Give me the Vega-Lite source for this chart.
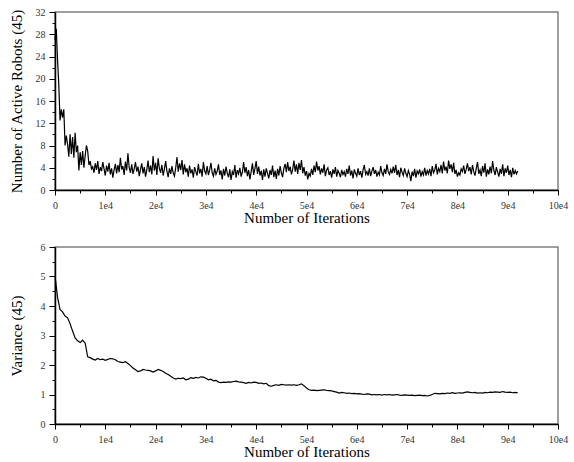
{
  "$schema": "https://vega.github.io/schema/vega-lite/v6.json",
  "padding": {"left": 8, "top": 6, "right": 10, "bottom": 5},
  "background": "white",
  "spacing": 15,
  "config": {
    "view": {"stroke": "#808080", "strokeWidth": 1.5},
    "font": "Liberation Serif",
    "axis": {
      "domainColor": "black", "domainWidth": 1.5, "tickColor": "black", "tickWidth": 1,
      "labelFont": "Liberation Serif", "labelFontSize": 10, "labelColor": "#333",
      "titleFont": "Liberation Serif", "titleFontSize": 15, "titleFontWeight": "normal", "titleColor": "black",
      "grid": false, "labelOverlap": false, "labelFlush": false
    }
  },
  "datasets": {
    "robots": [
      {"iter":0,"active":27},{"iter":250,"active":29},{"iter":500,"active":23.5},{"iter":750,"active":19},{"iter":1000,"active":12.5},{"iter":1250,"active":14.5},{"iter":1500,"active":13},{"iter":1750,"active":14.5},{"iter":2000,"active":8},{"iter":2250,"active":9.8},
      {"iter":2500,"active":8.2},{"iter":2750,"active":6},{"iter":3000,"active":10},{"iter":3250,"active":6.5},{"iter":3500,"active":9.5},{"iter":3750,"active":5.8},{"iter":4000,"active":10.3},{"iter":4250,"active":6.8},{"iter":4500,"active":8},{"iter":4750,"active":3.5},
      {"iter":5000,"active":6.8},{"iter":5250,"active":4.5},{"iter":5500,"active":7},{"iter":5750,"active":4},{"iter":6000,"active":6.2},{"iter":6250,"active":8},{"iter":6500,"active":7},{"iter":6750,"active":4.5},{"iter":7000,"active":5.2},{"iter":7250,"active":3.8},
      {"iter":7500,"active":4.2},{"iter":7750,"active":3.1},{"iter":8000,"active":4.8},{"iter":8250,"active":3.6},{"iter":8500,"active":5.2},{"iter":8750,"active":2.9},{"iter":9000,"active":4.1},{"iter":9250,"active":3.4},{"iter":9500,"active":5.0},{"iter":9750,"active":3.8},
      {"iter":10000,"active":2.6},{"iter":10250,"active":4.4},{"iter":10500,"active":3.3},{"iter":10750,"active":4.9},{"iter":11000,"active":2.8},{"iter":11250,"active":3.9},{"iter":11500,"active":2.2},{"iter":11750,"active":3.6},{"iter":12000,"active":4.7},{"iter":12250,"active":3.0},
      {"iter":12500,"active":4.5},{"iter":12750,"active":3.2},{"iter":13000,"active":5.8},{"iter":13250,"active":3.7},{"iter":13500,"active":4.3},{"iter":13750,"active":2.7},{"iter":14000,"active":5.1},{"iter":14250,"active":3.5},{"iter":14500,"active":6.6},{"iter":14750,"active":4.0},
      {"iter":15000,"active":3.1},{"iter":15250,"active":4.6},{"iter":15500,"active":2.9},{"iter":15750,"active":3.8},{"iter":16000,"active":5.0},{"iter":16250,"active":3.3},{"iter":16500,"active":4.2},{"iter":16750,"active":2.5},{"iter":17000,"active":3.7},{"iter":17250,"active":4.8},
      {"iter":17500,"active":3.0},{"iter":17750,"active":4.1},{"iter":18000,"active":2.4},{"iter":18250,"active":3.6},{"iter":18500,"active":5.3},{"iter":18750,"active":3.2},{"iter":19000,"active":4.4},{"iter":19250,"active":2.8},{"iter":19500,"active":6.1},{"iter":19750,"active":3.5},
      {"iter":20000,"active":4.9},{"iter":20250,"active":2.7},{"iter":20500,"active":5.7},{"iter":20750,"active":3.9},{"iter":21000,"active":3.1},{"iter":21250,"active":4.5},{"iter":21500,"active":2.6},{"iter":21750,"active":3.8},{"iter":22000,"active":5.2},{"iter":22250,"active":3.4},
      {"iter":22500,"active":2.3},{"iter":22750,"active":3.9},{"iter":23000,"active":2.9},{"iter":23250,"active":4.3},{"iter":23500,"active":3.1},{"iter":23750,"active":2.5},{"iter":24000,"active":4.0},{"iter":24250,"active":5.9},{"iter":24500,"active":3.3},{"iter":24750,"active":4.8},
      {"iter":25000,"active":3.6},{"iter":25250,"active":5.4},{"iter":25500,"active":2.8},{"iter":25750,"active":4.6},{"iter":26000,"active":3.2},{"iter":26250,"active":3.9},{"iter":26500,"active":2.4},{"iter":26750,"active":4.4},{"iter":27000,"active":3.0},{"iter":27250,"active":3.7},
      {"iter":27500,"active":2.2},{"iter":27750,"active":4.1},{"iter":28000,"active":3.3},{"iter":28250,"active":2.6},{"iter":28500,"active":4.7},{"iter":28750,"active":3.0},{"iter":29000,"active":3.8},{"iter":29250,"active":2.4},{"iter":29500,"active":5.0},{"iter":29750,"active":3.4},
      {"iter":30000,"active":2.9},{"iter":30250,"active":4.3},{"iter":30500,"active":2.7},{"iter":30750,"active":3.6},{"iter":31000,"active":4.9},{"iter":31250,"active":3.1},{"iter":31500,"active":2.5},{"iter":31750,"active":3.9},{"iter":32000,"active":2.8},{"iter":32250,"active":3.4},
      {"iter":32500,"active":4.6},{"iter":32750,"active":2.7},{"iter":33000,"active":3.5},{"iter":33250,"active":1.9},{"iter":33500,"active":3.8},{"iter":33750,"active":2.6},{"iter":34000,"active":4.2},{"iter":34250,"active":3.0},{"iter":34500,"active":2.3},{"iter":34750,"active":3.7},
      {"iter":35000,"active":1.8},{"iter":35250,"active":3.3},{"iter":35500,"active":2.7},{"iter":35750,"active":4.5},{"iter":36000,"active":2.2},{"iter":36250,"active":3.6},{"iter":36500,"active":2.9},{"iter":36750,"active":4.0},{"iter":37000,"active":2.4},{"iter":37250,"active":3.2},
      {"iter":37500,"active":5.0},{"iter":37750,"active":3.1},{"iter":38000,"active":4.1},{"iter":38250,"active":2.5},{"iter":38500,"active":3.6},{"iter":38750,"active":1.9},{"iter":39000,"active":3.3},{"iter":39250,"active":4.8},{"iter":39500,"active":2.7},{"iter":39750,"active":3.9},
      {"iter":40000,"active":5.2},{"iter":40250,"active":2.9},{"iter":40500,"active":4.2},{"iter":40750,"active":2.6},{"iter":41000,"active":3.5},{"iter":41250,"active":1.8},{"iter":41500,"active":3.7},{"iter":41750,"active":2.4},{"iter":42000,"active":3.9},{"iter":42250,"active":3.0},
      {"iter":42500,"active":2.1},{"iter":42750,"active":3.6},{"iter":43000,"active":2.7},{"iter":43250,"active":4.4},{"iter":43500,"active":2.3},{"iter":43750,"active":3.5},{"iter":44000,"active":2.0},{"iter":44250,"active":3.8},{"iter":44500,"active":2.6},{"iter":44750,"active":4.3},
      {"iter":45000,"active":3.1},{"iter":45250,"active":2.3},{"iter":45500,"active":3.9},{"iter":45750,"active":4.7},{"iter":46000,"active":3.2},{"iter":46250,"active":5.0},{"iter":46500,"active":3.4},{"iter":46750,"active":4.2},{"iter":47000,"active":2.8},{"iter":47250,"active":3.7},
      {"iter":47500,"active":5.3},{"iter":47750,"active":3.3},{"iter":48000,"active":4.6},{"iter":48250,"active":2.9},{"iter":48500,"active":4.9},{"iter":48750,"active":3.6},{"iter":49000,"active":5.4},{"iter":49250,"active":3.0},{"iter":49500,"active":4.1},{"iter":49750,"active":2.6},
      {"iter":50000,"active":3.4},{"iter":50250,"active":1.9},{"iter":50500,"active":3.0},{"iter":50750,"active":2.5},{"iter":51000,"active":3.8},{"iter":51250,"active":2.7},{"iter":51500,"active":4.4},{"iter":51750,"active":3.2},{"iter":52000,"active":5.1},{"iter":52250,"active":3.5},
      {"iter":52500,"active":4.3},{"iter":52750,"active":2.8},{"iter":53000,"active":3.9},{"iter":53250,"active":3.1},{"iter":53500,"active":4.6},{"iter":53750,"active":2.5},{"iter":54000,"active":3.6},{"iter":54250,"active":4.0},{"iter":54500,"active":2.7},{"iter":54750,"active":3.4},
      {"iter":55000,"active":2.2},{"iter":55250,"active":3.7},{"iter":55500,"active":2.9},{"iter":55750,"active":4.1},{"iter":56000,"active":2.4},{"iter":56250,"active":3.5},{"iter":56500,"active":3.0},{"iter":56750,"active":2.3},{"iter":57000,"active":3.6},{"iter":57250,"active":2.8},
      {"iter":57500,"active":3.3},{"iter":57750,"active":2.4},{"iter":58000,"active":3.8},{"iter":58250,"active":2.9},{"iter":58500,"active":4.4},{"iter":58750,"active":2.6},{"iter":59000,"active":3.5},{"iter":59250,"active":2.1},{"iter":59500,"active":3.7},{"iter":59750,"active":3.0},
      {"iter":60000,"active":2.5},{"iter":60250,"active":3.9},{"iter":60500,"active":2.7},{"iter":60750,"active":3.4},{"iter":61000,"active":2.2},{"iter":61250,"active":3.6},{"iter":61500,"active":4.5},{"iter":61750,"active":2.8},{"iter":62000,"active":3.3},{"iter":62250,"active":2.6},
      {"iter":62500,"active":3.9},{"iter":62750,"active":2.5},{"iter":63000,"active":3.4},{"iter":63250,"active":4.1},{"iter":63500,"active":2.9},{"iter":63750,"active":3.6},{"iter":64000,"active":2.4},{"iter":64250,"active":3.2},{"iter":64500,"active":2.7},{"iter":64750,"active":4.3},
      {"iter":65000,"active":3.1},{"iter":65250,"active":2.6},{"iter":65500,"active":3.8},{"iter":65750,"active":2.9},{"iter":66000,"active":4.6},{"iter":66250,"active":3.3},{"iter":66500,"active":2.8},{"iter":66750,"active":3.7},{"iter":67000,"active":3.0},{"iter":67250,"active":4.2},
      {"iter":67500,"active":3.1},{"iter":67750,"active":4.5},{"iter":68000,"active":2.7},{"iter":68250,"active":3.6},{"iter":68500,"active":2.3},{"iter":68750,"active":4.0},{"iter":69000,"active":3.2},{"iter":69250,"active":2.6},{"iter":69500,"active":3.9},{"iter":69750,"active":3.0},
      {"iter":70000,"active":2.4},{"iter":70250,"active":3.5},{"iter":70500,"active":2.8},{"iter":70750,"active":1.6},{"iter":71000,"active":3.3},{"iter":71250,"active":2.5},{"iter":71500,"active":3.8},{"iter":71750,"active":2.2},{"iter":72000,"active":3.4},{"iter":72250,"active":2.9},
      {"iter":72500,"active":3.7},{"iter":72750,"active":2.4},{"iter":73000,"active":3.3},{"iter":73250,"active":2.7},{"iter":73500,"active":4.0},{"iter":73750,"active":2.6},{"iter":74000,"active":3.5},{"iter":74250,"active":2.9},{"iter":74500,"active":3.8},{"iter":74750,"active":2.5},
      {"iter":75000,"active":4.3},{"iter":75250,"active":3.1},{"iter":75500,"active":3.6},{"iter":75750,"active":4.7},{"iter":76000,"active":2.8},{"iter":76250,"active":3.9},{"iter":76500,"active":3.3},{"iter":76750,"active":4.5},{"iter":77000,"active":3.0},{"iter":77250,"active":5.1},
      {"iter":77500,"active":3.5},{"iter":77750,"active":4.2},{"iter":78000,"active":3.0},{"iter":78250,"active":5.3},{"iter":78500,"active":3.8},{"iter":78750,"active":4.6},{"iter":79000,"active":3.2},{"iter":79250,"active":4.9},{"iter":79500,"active":2.9},{"iter":79750,"active":3.6},
      {"iter":80000,"active":2.4},{"iter":80250,"active":3.1},{"iter":80500,"active":2.7},{"iter":80750,"active":3.8},{"iter":81000,"active":3.3},{"iter":81250,"active":4.4},{"iter":81500,"active":2.9},{"iter":81750,"active":3.7},{"iter":82000,"active":4.8},{"iter":82250,"active":3.4},
      {"iter":82500,"active":4.1},{"iter":82750,"active":2.8},{"iter":83000,"active":4.5},{"iter":83250,"active":3.3},{"iter":83500,"active":2.6},{"iter":83750,"active":3.9},{"iter":84000,"active":5.0},{"iter":84250,"active":2.9},{"iter":84500,"active":3.6},{"iter":84750,"active":2.5},
      {"iter":85000,"active":4.3},{"iter":85250,"active":3.1},{"iter":85500,"active":4.8},{"iter":85750,"active":2.4},{"iter":86000,"active":3.7},{"iter":86250,"active":2.8},{"iter":86500,"active":4.2},{"iter":86750,"active":3.0},{"iter":87000,"active":5.2},{"iter":87250,"active":3.5},
      {"iter":87500,"active":2.7},{"iter":87750,"active":4.1},{"iter":88000,"active":3.2},{"iter":88250,"active":2.4},{"iter":88500,"active":3.8},{"iter":88750,"active":2.9},{"iter":89000,"active":4.6},{"iter":89250,"active":2.5},{"iter":89500,"active":3.9},{"iter":89750,"active":3.1},
      {"iter":90000,"active":4.4},{"iter":90250,"active":2.7},{"iter":90500,"active":3.6},{"iter":90750,"active":2.3},{"iter":91000,"active":4.0},{"iter":91250,"active":2.8},{"iter":91500,"active":3.5},{"iter":91750,"active":2.9},{"iter":92000,"active":3.4}
    ],
    "variance": [
      {"iter":0,"variance":5.03},{"iter":500,"variance":4.3},{"iter":1000,"variance":3.88},{"iter":1500,"variance":3.8},{"iter":2000,"variance":3.66},{"iter":2500,"variance":3.6},{"iter":3000,"variance":3.4},{"iter":3500,"variance":3.15},{"iter":4000,"variance":2.92},{"iter":4500,"variance":2.82},
      {"iter":5000,"variance":2.76},{"iter":5500,"variance":2.84},{"iter":6000,"variance":2.74},{"iter":6500,"variance":2.28},{"iter":7000,"variance":2.25},{"iter":7500,"variance":2.2},{"iter":8000,"variance":2.17},{"iter":8500,"variance":2.22},{"iter":9000,"variance":2.18},{"iter":9500,"variance":2.2},
      {"iter":10000,"variance":2.16},{"iter":10500,"variance":2.19},{"iter":11000,"variance":2.22},{"iter":11500,"variance":2.21},{"iter":12000,"variance":2.18},{"iter":12500,"variance":2.12},{"iter":13000,"variance":2.1},{"iter":13500,"variance":2.08},{"iter":14000,"variance":2.11},{"iter":14500,"variance":2.05},
      {"iter":15000,"variance":1.98},{"iter":15500,"variance":1.9},{"iter":16000,"variance":1.84},{"iter":16500,"variance":1.78},{"iter":17000,"variance":1.8},{"iter":17500,"variance":1.85},{"iter":18000,"variance":1.83},{"iter":18500,"variance":1.82},{"iter":19000,"variance":1.8},{"iter":19500,"variance":1.76},
      {"iter":20000,"variance":1.8},{"iter":20500,"variance":1.85},{"iter":21000,"variance":1.82},{"iter":21500,"variance":1.78},{"iter":22000,"variance":1.72},{"iter":22500,"variance":1.68},{"iter":23000,"variance":1.62},{"iter":23500,"variance":1.56},{"iter":24000,"variance":1.52},{"iter":24500,"variance":1.55},
      {"iter":25000,"variance":1.54},{"iter":25500,"variance":1.56},{"iter":26000,"variance":1.5},{"iter":26500,"variance":1.52},{"iter":27000,"variance":1.57},{"iter":27500,"variance":1.55},{"iter":28000,"variance":1.58},{"iter":28500,"variance":1.56},{"iter":29000,"variance":1.6},{"iter":29500,"variance":1.59},
      {"iter":30000,"variance":1.55},{"iter":30500,"variance":1.5},{"iter":31000,"variance":1.52},{"iter":31500,"variance":1.46},{"iter":32000,"variance":1.48},{"iter":32500,"variance":1.42},{"iter":33000,"variance":1.4},{"iter":33500,"variance":1.42},{"iter":34000,"variance":1.41},{"iter":34500,"variance":1.43},
      {"iter":35000,"variance":1.42},{"iter":35500,"variance":1.44},{"iter":36000,"variance":1.45},{"iter":36500,"variance":1.43},{"iter":37000,"variance":1.42},{"iter":37500,"variance":1.4},{"iter":38000,"variance":1.38},{"iter":38500,"variance":1.41},{"iter":39000,"variance":1.39},{"iter":39500,"variance":1.42},
      {"iter":40000,"variance":1.41},{"iter":40500,"variance":1.38},{"iter":41000,"variance":1.39},{"iter":41500,"variance":1.36},{"iter":42000,"variance":1.38},{"iter":42500,"variance":1.3},{"iter":43000,"variance":1.28},{"iter":43500,"variance":1.31},{"iter":44000,"variance":1.33},{"iter":44500,"variance":1.31},
      {"iter":45000,"variance":1.34},{"iter":45500,"variance":1.33},{"iter":46000,"variance":1.32},{"iter":46500,"variance":1.33},{"iter":47000,"variance":1.32},{"iter":47500,"variance":1.33},{"iter":48000,"variance":1.31},{"iter":48500,"variance":1.33},{"iter":49000,"variance":1.36},{"iter":49500,"variance":1.3},
      {"iter":50000,"variance":1.22},{"iter":50500,"variance":1.16},{"iter":51000,"variance":1.14},{"iter":51500,"variance":1.15},{"iter":52000,"variance":1.13},{"iter":52500,"variance":1.14},{"iter":53000,"variance":1.15},{"iter":53500,"variance":1.16},{"iter":54000,"variance":1.14},{"iter":54500,"variance":1.13},
      {"iter":55000,"variance":1.12},{"iter":55500,"variance":1.1},{"iter":56000,"variance":1.08},{"iter":56500,"variance":1.05},{"iter":57000,"variance":1.07},{"iter":57500,"variance":1.06},{"iter":58000,"variance":1.04},{"iter":58500,"variance":1.05},{"iter":59000,"variance":1.03},{"iter":59500,"variance":1.04},
      {"iter":60000,"variance":1.02},{"iter":60500,"variance":1.03},{"iter":61000,"variance":1.01},{"iter":61500,"variance":1.0},{"iter":62000,"variance":1.02},{"iter":62500,"variance":1.01},{"iter":63000,"variance":0.99},{"iter":63500,"variance":1.0},{"iter":64000,"variance":0.99},{"iter":64500,"variance":1.0},
      {"iter":65000,"variance":0.98},{"iter":65500,"variance":1.0},{"iter":66000,"variance":0.99},{"iter":66500,"variance":1.0},{"iter":67000,"variance":0.98},{"iter":67500,"variance":0.99},{"iter":68000,"variance":1.0},{"iter":68500,"variance":0.98},{"iter":69000,"variance":0.97},{"iter":69500,"variance":0.99},
      {"iter":70000,"variance":0.98},{"iter":70500,"variance":0.97},{"iter":71000,"variance":0.98},{"iter":71500,"variance":0.96},{"iter":72000,"variance":0.97},{"iter":72500,"variance":0.98},{"iter":73000,"variance":0.96},{"iter":73500,"variance":0.97},{"iter":74000,"variance":0.95},{"iter":74500,"variance":0.97},
      {"iter":75000,"variance":1.0},{"iter":75500,"variance":1.04},{"iter":76000,"variance":1.03},{"iter":76500,"variance":1.02},{"iter":77000,"variance":1.04},{"iter":77500,"variance":1.03},{"iter":78000,"variance":1.05},{"iter":78500,"variance":1.04},{"iter":79000,"variance":1.06},{"iter":79500,"variance":1.04},
      {"iter":80000,"variance":1.05},{"iter":80500,"variance":1.06},{"iter":81000,"variance":1.05},{"iter":81500,"variance":1.07},{"iter":82000,"variance":1.09},{"iter":82500,"variance":1.07},{"iter":83000,"variance":1.06},{"iter":83500,"variance":1.07},{"iter":84000,"variance":1.05},{"iter":84500,"variance":1.06},
      {"iter":85000,"variance":1.05},{"iter":85500,"variance":1.07},{"iter":86000,"variance":1.06},{"iter":86500,"variance":1.08},{"iter":87000,"variance":1.07},{"iter":87500,"variance":1.09},{"iter":88000,"variance":1.08},{"iter":88500,"variance":1.07},{"iter":89000,"variance":1.1},{"iter":89500,"variance":1.08},
      {"iter":90000,"variance":1.07},{"iter":90500,"variance":1.08},{"iter":91000,"variance":1.06},{"iter":91500,"variance":1.07},{"iter":92000,"variance":1.06}
    ]
  },
  "vconcat": [
    {
      "width": 503, "height": 178,
      "data": {"name": "robots"},
      "mark": {"type": "line", "color": "black", "strokeWidth": 1.2},
      "encoding": {
        "x": {
          "field": "iter", "type": "quantitative",
          "scale": {"domain": [0, 100000], "nice": false},
          "axis": {
            "title": "Number of Iterations", "titlePadding": 0,
            "values": [0,5000,10000,15000,20000,25000,30000,35000,40000,45000,50000,55000,60000,65000,70000,75000,80000,85000,90000,95000,100000],
            "labelExpr": "datum.value % 10000 != 0 ? '' : (datum.value == 0 ? '0' : (datum.value / 10000) + 'e4')",
            "tickSize": {"condition": {"test": "datum.value % 10000 != 0", "value": 3}, "value": 5},
            "labelPadding": 5
          }
        },
        "y": {
          "field": "active", "type": "quantitative",
          "scale": {"domain": [0, 32], "nice": false},
          "axis": {
            "title": "Number of Active Robots (45)", "titleX": -31,
            "values": [0,2,4,6,8,10,12,14,16,18,20,22,24,26,28,30,32],
            "labelExpr": "datum.value % 4 != 0 ? '' : datum.value + ''",
            "tickSize": {"condition": {"test": "datum.value % 4 != 0", "value": 3}, "value": 6},
            "labelPadding": 4
          }
        }
      }
    },
    {
      "width": 503, "height": 177,
      "data": {"name": "variance"},
      "mark": {"type": "line", "color": "black", "strokeWidth": 1.2},
      "encoding": {
        "x": {
          "field": "iter", "type": "quantitative",
          "scale": {"domain": [0, 100000], "nice": false},
          "axis": {
            "title": "Number of Iterations", "titlePadding": 0,
            "values": [0,5000,10000,15000,20000,25000,30000,35000,40000,45000,50000,55000,60000,65000,70000,75000,80000,85000,90000,95000,100000],
            "labelExpr": "datum.value % 10000 != 0 ? '' : (datum.value == 0 ? '0' : (datum.value / 10000) + 'e4')",
            "tickSize": {"condition": {"test": "datum.value % 10000 != 0", "value": 3}, "value": 5},
            "labelPadding": 5
          }
        },
        "y": {
          "field": "variance", "type": "quantitative",
          "scale": {"domain": [0, 6], "nice": false},
          "axis": {
            "title": "Variance (45)", "titleX": -31,
            "values": [0,0.5,1,1.5,2,2.5,3,3.5,4,4.5,5,5.5,6],
            "labelExpr": "datum.value % 1 != 0 ? '' : datum.value + ''",
            "tickSize": {"condition": {"test": "datum.value % 1 != 0", "value": 3}, "value": 6},
            "labelPadding": 4
          }
        }
      }
    }
  ]
}
